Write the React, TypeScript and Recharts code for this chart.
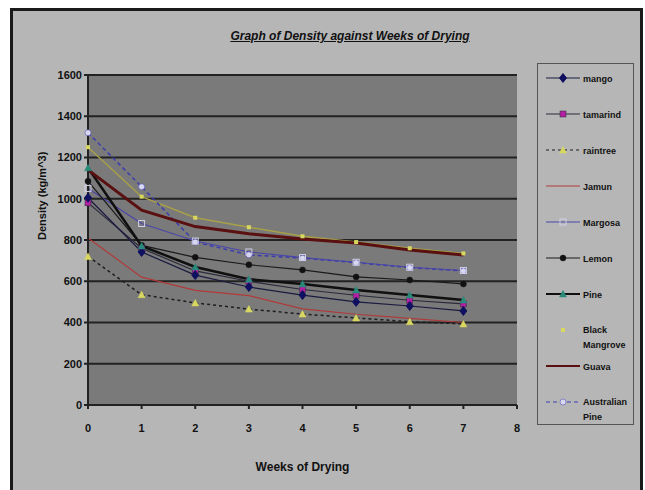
import React from "react";
import { LineChart, Line, CartesianGrid, XAxis, YAxis } from "recharts";

const weeks = [0, 1, 2, 3, 4, 5, 6, 7];
const mango = [1005, 742, 630, 572, 533, 500, 480, 456];
const tamarind = [980, 760, 650, 600, 560, 532, 508, 490];
const raintree = [720, 535, 495, 465, 441, 422, 404, 393];
const jamun = [810, 620, 556, 530, 466, 440, 420, 400];
const margosa = [1050, 880, 795, 742, 715, 692, 668, 652];
const lemon = [1085, 774, 716, 680, 655, 621, 606, 587];
const pine = [1150, 771, 669, 610, 587, 558, 533, 509];
const blackMangrove = [1250, 1010, 908, 862, 818, 790, 760, 735];
const guava = [1140, 945, 865, 830, 805, 785, 752, 727];
const australianPine = [1320, 1058, 790, 728, 712, 690, 666, 650];

const yTicks = [0, 200, 400, 600, 800, 1000, 1200, 1400, 1600];
const xTicks = [0, 1, 2, 3, 4, 5, 6, 7, 8];

const data = weeks.map((w, i) => ({
  week: w,
  mango: mango[i],
  tamarind: tamarind[i],
  raintree: raintree[i],
  jamun: jamun[i],
  margosa: margosa[i],
  lemon: lemon[i],
  pine: pine[i],
  blackMangrove: blackMangrove[i],
  guava: guava[i],
  australianPine: australianPine[i],
}));

type Shape = "diamond" | "square" | "triangle" | "circle" | "openSquare" | "dot" | "none";

const series: Array<{
  key: string;
  name: string;
  color: string;
  width: number;
  dash?: string;
  shape: Shape;
  fill: string;
}> = [
  { key: "blackMangrove", name: "Black Mangrove", color: "#a8a048", width: 1.5, shape: "dot", fill: "#d8d860" },
  { key: "australianPine", name: "Australian Pine", color: "#3c3cb0", width: 1.5, dash: "4 3", shape: "circle", fill: "#d8d8f0" },
  { key: "jamun", name: "Jamun", color: "#b03a3a", width: 1.2, shape: "none", fill: "none" },
  { key: "raintree", name: "raintree", color: "#1e1e1e", width: 1.5, dash: "3 3", shape: "triangle", fill: "#d8d860" },
  { key: "margosa", name: "Margosa", color: "#4a46a8", width: 1.2, shape: "openSquare", fill: "#d0d0e8" },
  { key: "lemon", name: "Lemon", color: "#1a1a1a", width: 1.2, shape: "circle", fill: "#111" },
  { key: "tamarind", name: "tamarind", color: "#2a2a3a", width: 1.2, shape: "square", fill: "#b020a0" },
  { key: "mango", name: "mango", color: "#1a1a40", width: 1.2, shape: "diamond", fill: "#101060" },
  { key: "pine", name: "Pine", color: "#101010", width: 2.5, shape: "triangle", fill: "#2a8a7a" },
  { key: "guava", name: "Guava", color: "#5a1010", width: 3, shape: "none", fill: "none" },
];

const legendOrder = ["mango", "tamarind", "raintree", "jamun", "margosa", "lemon", "pine", "blackMangrove", "guava", "australianPine"];
const legendLabels: Record<string, string[]> = {
  mango: ["mango"],
  tamarind: ["tamarind"],
  raintree: ["raintree"],
  jamun: ["Jamun"],
  margosa: ["Margosa"],
  lemon: ["Lemon"],
  pine: ["Pine"],
  blackMangrove: ["Black", "Mangrove"],
  guava: ["Guava"],
  australianPine: ["Australian", "Pine"],
};

const FONT = "'Liberation Sans Narrow', 'Liberation Sans', Arial, sans-serif";

function Marker({ cx, cy, shape, fill, stroke }: { cx: number; cy: number; shape: Shape; fill: string; stroke: string }) {
  if (cx == null || cy == null || shape === "none") return null;
  const s = 3.5;
  if (shape === "diamond")
    return <path d={`M${cx},${cy - s - 1}L${cx + s},${cy}L${cx},${cy + s + 1}L${cx - s},${cy}Z`} fill={fill} stroke={fill} />;
  if (shape === "square") return <rect x={cx - 3} y={cy - 3} width={6} height={6} fill={fill} stroke={stroke} strokeWidth={0.5} />;
  if (shape === "openSquare") return <rect x={cx - 3} y={cy - 3} width={6} height={6} fill="none" stroke={fill} strokeWidth={1} />;
  if (shape === "triangle")
    return <path d={`M${cx},${cy - 3.5}L${cx + 3.5},${cy + 3}L${cx - 3.5},${cy + 3}Z`} fill={fill} stroke={fill} strokeWidth={0.5} />;
  if (shape === "dot") return <rect x={cx - 2} y={cy - 2} width={4} height={4} fill={fill} />;
  return <circle cx={cx} cy={cy} r={3} fill={fill} stroke={stroke} strokeWidth={0.5} />;
}

function LegendBox() {
  return (
    <div
      style={{
        position: "absolute",
        left: 537,
        top: 63,
        width: 97,
        height: 362,
        border: "1.5px solid #555",
        boxSizing: "border-box",
        background: "#b6b6b6",
        fontFamily: FONT,
        fontWeight: "bold",
        fontSize: 9,
        color: "#111",
      }}
    >
      {legendOrder.map((k, i) => {
        const s = series.find((x) => x.key === k)!;
        const lines = legendLabels[k];
        const cy = 14 + i * 36;
        return (
          <div key={k} style={{ position: "absolute", left: 6, top: cy - 12, height: 24, width: 90 }}>
            <svg width={36} height={24} style={{ position: "absolute", left: 0, top: 0 }}>
              {k !== "blackMangrove" && (
                <line x1={2} y1={12} x2={36} y2={12} stroke={s.color} strokeWidth={s.width > 2 ? 2 : 1} strokeDasharray={s.dash} />
              )}
              <Marker cx={19} cy={12} shape={s.shape} fill={s.fill} stroke={s.color} />
            </svg>
            <div style={{ position: "absolute", left: 39, top: lines.length > 1 ? 5 : 6, lineHeight: "15px" }}>
              {lines.map((l) => (
                <div key={l}>{l}</div>
              ))}
            </div>
          </div>
        );
      })}
    </div>
  );
}

export default function App() {
  return (
    <div style={{ position: "absolute", left: 0, top: 0, width: 645, height: 490, background: "#fff", overflow: "hidden" }}>
      <div
        style={{
          position: "absolute",
          left: 10,
          top: 8,
          width: 633,
          height: 500,
          border: "3px solid #1a1a1a",
          boxSizing: "border-box",
          background: "#b6b6b6",
        }}
      />
      <div
        style={{
          position: "absolute",
          left: 0,
          top: 29,
          width: 700,
          textAlign: "center",
          fontFamily: FONT,
          fontWeight: "bold",
          fontStyle: "italic",
          fontSize: 12,
          textDecoration: "underline",
          color: "#111",
        }}
      >
        Graph of Density against Weeks of Drying
      </div>
      <div style={{ position: "absolute", left: 0, top: 0 }}>
        <LineChart width={645} height={490} data={data} margin={{ top: 75, right: 128, bottom: 15, left: 40 }}>
          <CartesianGrid vertical={false} stroke="#222" strokeWidth={2} fill="#7a7a7a" />
          <XAxis
            type="number"
            dataKey="week"
            domain={[0, 8]}
            ticks={xTicks}
            interval={0}
            height={70}
            stroke="#222"
            strokeWidth={2}
            tickSize={4}
            tick={{ fill: "#111", fontSize: 11, fontWeight: "bold", fontFamily: FONT, dy: 13 }}
            label={{ value: "Weeks of Drying", position: "insideBottom", offset: 4, fill: "#111", fontSize: 12, fontWeight: "bold", fontFamily: FONT }}
          />
          <YAxis
            domain={[0, 1600]}
            ticks={yTicks}
            interval={0}
            width={48}
            stroke="#222"
            strokeWidth={2}
            tickSize={4}
            tick={{ fill: "#111", fontSize: 11, fontWeight: "bold", fontFamily: FONT }}
            label={{
              value: "Density (kg/m^3)",
              angle: -90,
              position: "insideLeft",
              offset: 2,
              fill: "#111",
              fontSize: 11,
              fontWeight: "bold",
              fontFamily: FONT,
            }}
          />
          {series.map((s) => (
            <Line
              key={s.key}
              type="linear"
              dataKey={s.key}
              name={s.name}
              stroke={s.color}
              strokeWidth={s.width}
              strokeDasharray={s.dash}
              isAnimationActive={false}
              dot={(p: any) => <Marker key={`${s.key}-${p.index}`} cx={p.cx} cy={p.cy} shape={s.shape} fill={s.fill} stroke={s.color} />}
              activeDot={false}
            />
          ))}
        </LineChart>
      </div>
      <LegendBox />
    </div>
  );
}
